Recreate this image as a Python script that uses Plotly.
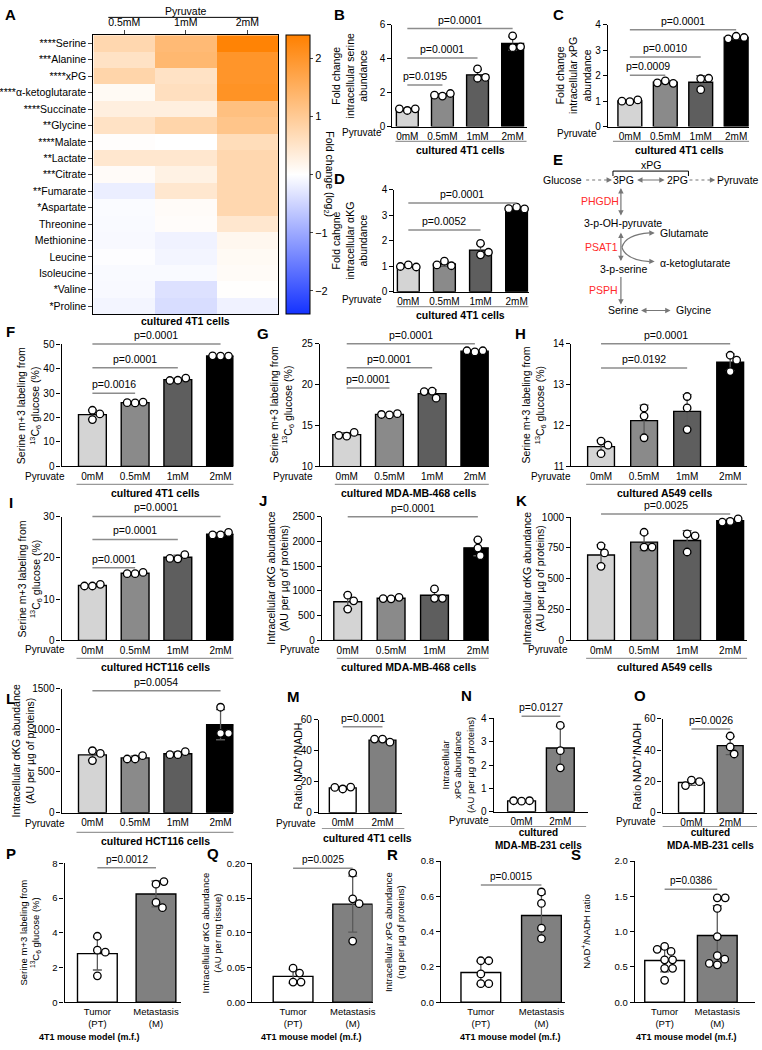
import numpy as np
import plotly.graph_objects as go

W, H = 762, 1050
FONT = "Liberation Sans, Arial, sans-serif"

# ======================= DATA =======================
# Panel A: log2 fold change vs 0mM pyruvate (cultured 4T1 cells)
hm_rows = ["****Serine", "***Alanine", "****xPG", "****α-ketoglutarate", "****Succinate",
           "**Glycine", "****Malate", "**Lactate", "***Citrate", "**Fumarate", "*Aspartate",
           "Threonine", "Methionine", "Leucine", "Isoleucine", "*Valine", "*Proline"]
hm_cols = ["0.5mM", "1mM", "2mM"]
hm_05mM = [0.75, 0.55, 0.80, 0.10, 0.30, 0.55, 0.03, 0.45, 0.07, -0.20, -0.05, -0.06, -0.07, -0.02, -0.06, -0.07, -0.12]
hm_1mM = [1.30, 1.35, 0.55, 0.60, 0.30, 0.80, 0.00, 0.45, 0.25, 0.45, 0.07, 0.05, -0.15, -0.12, -0.06, -0.35, -0.40]
hm_2mM = [2.35, 2.00, 2.00, 2.05, 1.20, 1.10, 0.65, 0.75, 0.75, 0.75, 0.75, 0.45, 0.15, 0.10, 0.08, 0.02, -0.15]

pyr4 = ["0mM", "0.5mM", "1mM", "2mM"]
pyr2 = ["0mM", "2mM"]
sites = ["Tumor<br>(PT)", "Metastasis<br>(M)"]

# individual replicate values per category
B_serine_fc = [[0.95, 1.05, 1.05], [1.80, 1.95, 1.85], [3.40, 2.85, 2.90], [5.35, 4.65, 4.70]]
C_xpg_fc = [[0.98, 1.05, 1.00], [1.80, 1.70, 1.72], [1.88, 1.90, 1.45], [3.55, 3.50, 3.45]]
D_akg_fc = [[1.05, 0.97, 0.99], [1.20, 1.02, 1.05], [1.90, 1.45, 1.55], [3.32, 3.25, 3.26]]
F_4t1_m3 = [[23.0, 19.2, 21.5], [26.0, 26.3, 26.1], [35.3, 36.2, 35.2], [45.2, 45.2, 45.3]]
G_468_m3 = [[13.7, 14.15, 13.8], [16.3, 16.45, 16.35], [19.2, 18.35, 19.15], [24.0, 24.15, 24.15]]
H_a549_m3 = [[11.62, 11.52, 11.31], [12.43, 12.23, 11.70], [12.71, 12.43, 11.90], [13.72, 13.60, 13.32]]
I_hct_m3 = [[13.2, 13.6, 13.2], [16.2, 16.5, 16.2], [19.8, 20.8, 19.9], [25.6, 26.2, 25.6]]
J_468_akg = [[914, 800, 634], [840, 870, 845], [850, 1040, 850], [2034, 1868, 1714]]
K_a549_akg = [[767, 709, 601], [877, 757, 757], [864, 848, 717], [965, 985, 960]]
L_hct_akg = [[749, 717, 630], [649, 689, 649], [701, 737, 701], [1275, 959, 959]]
M_4t1_nad = [[15.3, 16.5, 16.3], [47.5, 45.5, 47.5]]
N_231_xpg = [[0.45, 0.47, 0.47], [3.70, 2.62, 1.88]]
O_231_nad = [[20.8, 19.8, 17.3], [49.0, 42.0, 37.5]]
P_mouse_m3 = [[3.80, 3.00, 2.88, 1.52], [6.80, 6.95, 5.75, 5.45]]
Q_mouse_akg = [[0.049, 0.042, 0.029, 0.029], [0.186, 0.149, 0.142, 0.088]]
R_mouse_xpg = [[0.235, 0.235, 0.160, 0.105, 0.105], [0.625, 0.560, 0.420, 0.360]]
S_mouse_nad = [[0.79, 0.72, 0.75, 0.60, 0.60, 0.48, 0.48, 0.31],
               [1.48, 1.48, 1.33, 0.93, 0.66, 0.61, 0.53, 0.55]]

# p-value labels
B_p = ["p=0.0001", "p=0.0001", "p=0.0195"]
C_p = ["p=0.0001", "p=0.0010", "p=0.0009"]
D_p = ["p=0.0001", "p=0.0052"]
F_p = ["p=0.0001", "p=0.0001", "p=0.0016"]
G_p = ["p=0.0001", "p=0.0001", "p=0.0001"]
H_p = ["p=0.0001", "p=0.0192"]
I_p = ["p=0.0001", "p=0.0001", "p=0.0001"]
J_p = ["p=0.0001"]
K_p = ["p=0.0025"]
L_p = ["p=0.0054"]
M_p = ["p=0.0001"]
N_p = ["p=0.0127"]
O_p = ["p=0.0026"]
P_p = ["p=0.0012"]
Q_p = ["p=0.0025"]
R_p = ["p=0.0015"]
S_p = ["p=0.0386"]

SER_T = "Serine m+3 labeling from<br><sup>13</sup>C<sub>6</sub> glucose (%)"
AKG_T = "Intracellular αKG abundance<br>(AU per µg of proteins)"
NAD_T = "Ratio NAD<sup>+</sup>/NADH"

# ======================= STYLE / LAYOUT =======================
GREYS4 = ["#d4d4d4", "#8a8a8a", "#5e5e5e", "#000000"]
WG = ["#ffffff", "#808080"]

annos, shapes = [], []


def P(x):
    return x / W


def Qy(y):
    return 1 - y / H


def text(x, y, s, size=10.5, bold=False, color="black", xa="center", ya="middle", angle=0):
    annos.append(dict(xref="paper", yref="paper", x=P(x), y=Qy(y),
                      text=f"<b>{s}</b>" if bold else s, showarrow=False,
                      xanchor=xa, yanchor=ya, textangle=angle,
                      font=dict(size=size, color=color, family=FONT)))


def line(x0, y0, x1, y1, color="#8c8c8c", width=1.3, dash="solid"):
    shapes.append(dict(type="line", xref="paper", yref="paper", x0=P(x0), y0=Qy(y0),
                       x1=P(x1), y1=Qy(y1), line=dict(color=color, width=width, dash=dash)))


def arrow(xh, yh, xt, yt, both=False, color="#777777"):
    annos.append(dict(xref="paper", yref="paper", x=P(xh), y=Qy(yh), ax=xt - xh, ay=yt - yh,
                      text="", showarrow=True, arrowhead=2, arrowsize=0.9, arrowwidth=1.2,
                      arrowcolor=color, arrowside="end+start" if both else "end",
                      standoff=0, startstandoff=0))


fig = go.Figure()
layout = dict(width=W, height=H, margin=dict(l=0, r=0, t=0, b=0),
              paper_bgcolor="white", plot_bgcolor="white", showlegend=False,
              font=dict(family=FONT, size=10, color="black"))

# ---------------- Panel A heatmap ----------------
hm_z = [list(r) for r in zip(hm_05mM, hm_1mM, hm_2mM)]
hm_top, hm_bot = 29.5, 312
fig.add_trace(go.Heatmap(
    z=hm_z, x=hm_cols, y=hm_rows, zmin=-2.4, zmax=2.4,
    colorscale=[[0, "rgb(20,50,255)"], [0.5, "rgb(255,255,255)"], [1, "rgb(255,128,0)"]],
    xaxis="x", yaxis="y", hoverinfo="skip",
    colorbar=dict(x=P(286), xanchor="left", xpad=0, y=Qy(hm_top), yanchor="top", ypad=0,
                  len=(hm_bot - hm_top) / H, lenmode="fraction", thickness=24,
                  thicknessmode="pixels", outlinewidth=1, outlinecolor="black",
                  tickvals=[-2, -1, 0, 1, 2], ticks="outside", ticklen=3,
                  tickfont=dict(size=11, family=FONT))))
layout["xaxis"] = dict(domain=[P(92), P(278)], side="top", ticks="outside", ticklen=4,
                       showline=True, mirror=True, linecolor="black", linewidth=1.2,
                       tickfont=dict(size=10.5), anchor="y", fixedrange=True)
layout["yaxis"] = dict(domain=[Qy(hm_bot), Qy(hm_top)], autorange="reversed", ticks="outside",
                       ticklen=4, showline=True, mirror=True, linecolor="black", linewidth=1.2,
                       tickfont=dict(size=10.5), anchor="x", fixedrange=True)
text(185, 5, "Pyruvate")
line(107, 11.5, 258, 11.5, color="black", width=1)
text(185, 319, "cultured 4T1 cells", bold=True)
text(329, 170, "Fold change (log<sub>2</sub>)", angle=90)


def swarm(vals, ppu, spacing, D=8):
    placed, offs = [], []
    for v in vals:
        y = v * ppu
        cands = [0.0]
        for k in range(1, 80):
            cands += [k * 0.5, -k * 0.5]
        for dx in cands:
            if all((dx - a) ** 2 + (y - b) ** 2 >= D * D for a, b in placed):
                break
        placed.append((dx, y))
        offs.append(dx / spacing)
    return offs


def bar_panel(k, pts, cats, colors, g, pvals, ytitle, fs=10):
    n = len(cats)
    c0, cl = g["c"]
    s = (cl - c0) / (n - 1)
    xr = [-(c0 - g["x0"]) / s, (g["x1"] - c0) / s]
    y0, y1 = g["yr"]
    ppu = (g["ybot"] - g["ytop"]) / (y1 - y0)
    xa, ya = f"x{k}", f"y{k}"
    means = [float(np.mean(p)) for p in pts]
    sds = [float(np.std(p, ddof=1)) for p in pts]
    fig.add_trace(go.Bar(
        x=list(range(n)), y=means, width=g["bw"] / s,
        marker=dict(color=colors, line=dict(color="black", width=1.4)),
        error_y=dict(type="data", array=sds, visible=True, color="#5a5a5a", thickness=1.3, width=4.5),
        xaxis=xa, yaxis=ya, hoverinfo="skip"))
    xs, ys = [], []
    for i, p in enumerate(pts):
        offs = swarm(p, ppu, s)
        xs += [i + o for o in offs]
        ys += list(p)
    fig.add_trace(go.Scatter(
        x=xs, y=ys, mode="markers", cliponaxis=False, hoverinfo="skip",
        marker=dict(size=7.5, color="white", line=dict(color="black", width=1.3)),
        xaxis=xa, yaxis=ya))
    layout[f"xaxis{k}"] = dict(domain=[P(g["x0"]), P(g["x1"])], range=xr, anchor=ya,
                               showline=True, linecolor="black", linewidth=1.3, ticks="",
                               tickvals=list(range(n)), ticktext=cats, tickfont=dict(size=fs),
                               showgrid=False, zeroline=False, fixedrange=True)
    eps = (y1 - y0) * 1e-4
    layout[f"yaxis{k}"] = dict(domain=[Qy(g["ybot"]), Qy(g["ytop"])], range=[y0, y1 + eps],
                               anchor=xa, showline=True, linecolor="black", linewidth=1.3,
                               ticks="outside", ticklen=4, tickwidth=1.2, tickcolor="black",
                               tick0=y0, dtick=g["dt"], tickformat=g.get("fmt", ""),
                               tickfont=dict(size=fs), showgrid=False, zeroline=False,
                               fixedrange=True)
    # significance brackets
    for (i, j, yv), txt in zip(g["br"], pvals):
        ypx = g["ybot"] - (yv - y0) * ppu
        line(c0 + i * s, ypx, c0 + j * s, ypx, color="#8c8c8c", width=1.5)
        text(c0 + (i + j) / 2 * s, ypx - 1, txt, size=10.5 if fs >= 10 else 10, ya="bottom")
    # y title
    text(g["yt"], (g["ybot"] + g["ytop"]) / 2, ytitle, size=g.get("yts", 10.5 if fs >= 10 else 9.5), angle=-90)
    # letter
    text(g["lab"][0], g["lab"][1], g["lab"][2], size=15, bold=True)
    # pyruvate label and grouping
    if "pyr" in g:
        text(g["pyr"][0], g["pyr"][1], "Pyruvate", size=fs)
        line(g["ul"][0], g["ul"][2], g["ul"][1], g["ul"][2], color="#999999", width=1.2)
    text(g["grp"][0], g["grp"][1], g["grp"][2], size=g.get("gs", 10.5 if fs >= 10 else 9), bold=True)


panels = [
    (2, B_serine_fc, pyr4, GREYS4, B_p, "Fold change<br>intracellular serine<br>abundance",
     dict(x0=393, x1=528, c=(408, 514), ybot=122, ytop=19, yr=(0, 6), dt=2, bw=22,
          br=[(0, 3, 5.78), (0, 2, 4.04), (0, 1, 2.45)], yt=350, lab=(340, 9, "B"),
          pyr=(362, 128), ul=(396, 528, 137), grp=(462, 146, "cultured 4T1 cells"))),
    (3, C_xpg_fc, pyr4, GREYS4, C_p, "Fold change<br>intracellular xPG<br>abundance",
     dict(x0=610, x1=752, c=(632, 739), ybot=122, ytop=19, yr=(0, 4), dt=1, bw=24,
          br=[(0, 3, 3.80), (0, 2, 2.73), (0, 1, 2.02)], yt=575, lab=(560, 9, "C"),
          pyr=(579, 129), ul=(615, 752, 137), grp=(682, 146, "cultured 4T1 cells"))),
    (4, D_akg_fc, pyr4, GREYS4, D_p, "Fold cahgne<br>intracellular αKG<br>abundance",
     dict(x0=395, x1=530, c=(409, 518), ybot=289, ytop=186, yr=(0, 4), dt=1, bw=22,
          br=[(0, 3, 3.48), (0, 2, 2.42)], yt=350, lab=(340, 174, "D"),
          pyr=(362, 297), ul=(397, 530, 304), grp=(462, 313, "cultured 4T1 cells"))),
    (5, F_4t1_m3, pyr4, GREYS4, F_p, SER_T,
     dict(x0=60, x1=233, c=(91, 220), ybot=465.7, ytop=342.3, yr=(0, 50), dt=10, bw=28,
          br=[(0, 3, 50.2), (0, 2, 40.4), (0, 1, 30.0)], yt=28, lab=(9, 329, "F"),
          pyr=(43, 476), ul=(75, 233, 484), grp=(155, 493, "cultured 4T1 cells"))),
    (6, G_468_m3, pyr4, GREYS4, G_p, SER_T,
     dict(x0=320, x1=490, c=(347, 476), ybot=465.7, ytop=341.7, yr=(10, 25), dt=5, bw=28,
          br=[(0, 3, 25.0), (0, 2, 22.06), (0, 1, 19.6)], yt=282, lab=(263, 331, "G"),
          pyr=(293, 476), ul=(335, 490, 484), grp=(410, 493, "cultured MDA-MB-468 cells"))),
    (7, H_a549_m3, pyr4, GREYS4, H_p, SER_T,
     dict(x0=573, x1=750, c=(603, 733), ybot=465.7, ytop=341.7, yr=(11, 14), dt=1, bw=27,
          br=[(0, 3, 14.0), (0, 2, 13.41)], yt=536, lab=(522, 331, "H"),
          pyr=(553, 476), ul=(588, 750, 484), grp=(667, 493, "cultured A549 cells"))),
    (8, I_hct_m3, pyr4, GREYS4, I_p, SER_T,
     dict(x0=60, x1=233, c=(91, 220), ybot=641.7, ytop=516.7, yr=(0, 30), dt=10, bw=28,
          br=[(0, 3, 30.1), (0, 2, 24.5), (0, 1, 17.6)], yt=28, lab=(9, 502, "I"),
          pyr=(43, 651), ul=(75, 233, 660), grp=(155, 669, "cultured HCT116 cells"))),
    (9, J_468_akg, pyr4, GREYS4, J_p, AKG_T,
     dict(x0=322, x1=490, c=(348, 479), ybot=641.7, ytop=516.7, yr=(0, 2500), dt=500, bw=28,
          br=[(0, 3, 2500)], yt=277, lab=(263, 500, "J"),
          pyr=(300, 651), ul=(337, 490, 660), grp=(410, 669, "cultured MDA-MB-468 cells"))),
    (10, K_a549_akg, pyr4, GREYS4, K_p, AKG_T,
     dict(x0=573, x1=750, c=(603, 733), ybot=641.7, ytop=517, yr=(0, 1000), dt=250, bw=27,
          br=[(0, 3, 1026)], yt=535, lab=(523, 500, "K"),
          pyr=(550, 651), ul=(588, 750, 660), grp=(667, 669, "cultured A549 cells"))),
    (11, L_hct_akg, pyr4, GREYS4, L_p, AKG_T,
     dict(x0=60, x1=233, c=(91, 220), ybot=816, ytop=690.5, yr=(0, 1500), dt=500, bw=28,
          br=[(0, 3, 1473)], yt=21, lab=(9, 700, "L"),
          pyr=(43, 827), ul=(75, 233, 836), grp=(155, 845, "cultured HCT116 cells"))),
    (12, M_4t1_nad, pyr2, WG, M_p, NAD_T,
     dict(x0=319, x1=403, c=(343, 383), ybot=816, ytop=722, yr=(0, 60), dt=20, bw=27,
          br=[(0, 1, 55.5)], yt=297, lab=(293, 698, "M"),
          pyr=(296, 827), ul=(322, 405, 832), grp=(368, 842, "cultured 4T1 cells"))),
    (13, N_231_xpg, pyr2, WG, N_p, "Intracellular<br>xPG abundance<br>(AU per µg of proteins)",
     dict(x0=495, x1=590, c=(523, 562), ybot=815, ytop=720.7, yr=(0, 4), dt=1, bw=28,
          br=[(0, 1, 4.1)], yt=459, yts=9.5, lab=(468, 697, "N"), gs=10,
          pyr=(470, 824), ul=(490, 588, 830), grp=(540, 843, "cultured<br>MDA-MB-231 cells"))),
    (14, O_231_nad, pyr2, WG, O_p, NAD_T,
     dict(x0=665, x1=760, c=(694, 733), ybot=816, ytop=721, yr=(0, 60), dt=20, bw=26,
          br=[(0, 1, 53.4)], yt=639, lab=(642, 697, "O"), gs=10,
          pyr=(638, 825), ul=(665, 760, 830), grp=(713, 843, "cultured<br>MDA-MB-231 cells"))),
    (15, P_mouse_m3, sites, WG, P_p, SER_T,
     dict(x0=63, x1=180, c=(96, 155), ybot=1007.7, ytop=867.3, yr=(0, 8), dt=2, bw=40,
          br=[(0, 1, 7.75)], yt=28, lab=(9, 857, "P"), grp=(88, 1043, "4T1 mouse model (m.f.)"))),
    (16, Q_mouse_akg, sites, WG, Q_p, "Intracellular αKG abundance<br>(AU per mg tissue)",
     dict(x0=252, x1=373, c=(293, 353), ybot=1007.7, ytop=867.3, yr=(0, 0.2), dt=0.05, fmt=".2f",
          bw=40, br=[(0, 1, 0.193)], yt=211, lab=(212, 857, "Q"),
          grp=(312, 1043, "4T1 mouse model (m.f.)"))),
    (17, R_mouse_xpg, sites, WG, R_p, "Intracellular xPG abundance<br>(ng per µg of proteins)",
     dict(x0=442, x1=567, c=(482, 543), ybot=1007.7, ytop=865, yr=(0, 0.8), dt=0.2, fmt=".1f",
          bw=40, br=[(0, 1, 0.664)], yt=395, lab=(393, 858, "R"),
          grp=(512, 1043, "4T1 mouse model (m.f.)"))),
    (18, S_mouse_nad, sites, WG, S_p, "NAD<sup>+</sup>/NADH ratio",
     dict(x0=637, x1=758, c=(667, 720), ybot=1007.7, ytop=865, yr=(0, 2), dt=0.5, fmt=".1f",
          bw=40, br=[(0, 1, 1.60)], yt=588, lab=(578, 858, "S"),
          grp=(689, 1043, "4T1 mouse model (m.f.)"))),
]

for k, pts, cats, cols, pv, yt, g in panels:
    fs = 9.5 if k >= 15 else 10
    bar_panel(k, pts, cats, cols, g, pv, yt, fs=fs)

# panel letters A and E
text(9, 9, "A", size=15, bold=True)
text(560, 155, "E", size=15, bold=True)

# ---------------- Panel E: pathway diagram ----------------
RED = "#ff2a2a"
PG = "#777777"
text(586, 176, "Glucose", xa="right")
text(626, 176, "3PG")
text(680, 176, "2PG")
text(718, 176, "Pyruvate", xa="left")
text(653, 161, "xPG")
shapes.append(dict(type="path", xref="paper", yref="paper",
                   path=f"M {P(615)},{Qy(172)} L {P(615)},{Qy(167)} L {P(691)},{Qy(167)} L {P(691)},{Qy(172)}",
                   line=dict(color="black", width=1)))
line(588, 176, 609, 176, color=PG, width=1.2, dash="3px,3px")
arrow(614, 176, 608, 176)
arrow(667, 176, 638, 176, both=True)
line(692, 176, 713, 176, color=PG, width=1.2, dash="3px,3px")
arrow(718, 176, 712, 176)
text(602, 197, "PHGDH", color=RED)
arrow(623, 212, 623, 183, both=True)
text(625, 220, "3-p-OH-pyruvate")
arrow(623, 258, 623, 228, both=True)
text(603, 244, "PSAT1", color=RED)
text(660, 230, "Glutamate", xa="left")
text(660, 260, "α-ketoglutarate", xa="left")
shapes.append(dict(type="path", xref="paper", yref="paper",
                   path=f"M {P(624)},{Qy(244)} Q {P(628)},{Qy(231)} {P(652)},{Qy(229.5)}",
                   line=dict(color=PG, width=1.2)))
shapes.append(dict(type="path", xref="paper", yref="paper",
                   path=f"M {P(624)},{Qy(244)} Q {P(628)},{Qy(257)} {P(652)},{Qy(258.5)}",
                   line=dict(color=PG, width=1.2)))
arrow(657, 229.5, 651, 229.7)
arrow(657, 258.5, 651, 258.3)
text(626, 266, "3-p-serine")
arrow(623, 302, 623, 273)
text(605, 287, "PSPH", color=RED)
text(626, 308, "Serine")
arrow(673, 308, 642, 308, both=True)
text(676, 308, "Glycine", xa="left")

layout["annotations"] = annos
layout["shapes"] = shapes
fig.update_layout(**layout)
fig.write_html("out.html", config={"displayModeBar": False},
               post_script="document.body.style.margin='0px';document.body.style.padding='0px';"
                           "document.body.style.overflow='hidden';")
